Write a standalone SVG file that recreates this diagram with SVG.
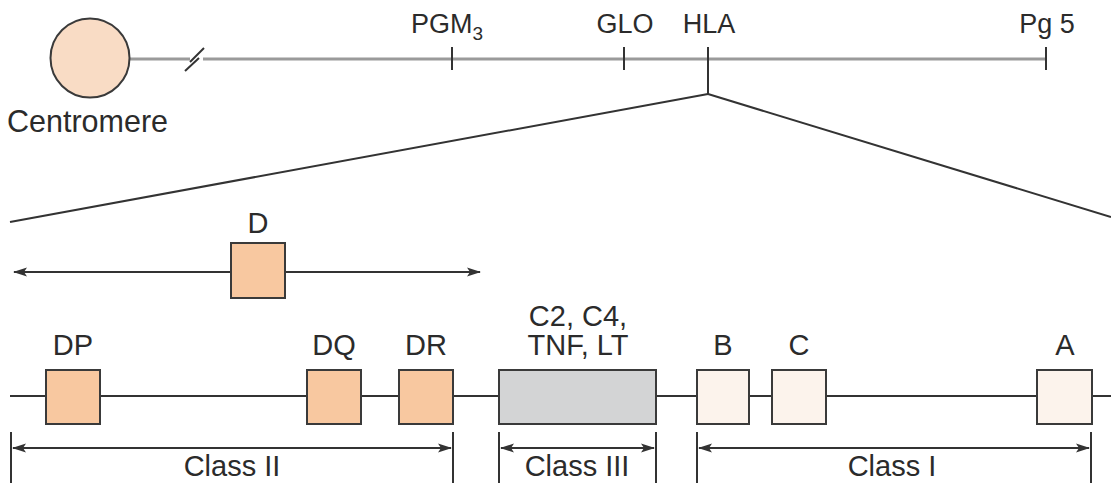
<svg xmlns="http://www.w3.org/2000/svg" width="1111" height="483" viewBox="0 0 1111 483">
<style>
text{font-family:"Liberation Sans",Arial,Helvetica,sans-serif;fill:#2b2b2b}
.lbl{font-size:29px;text-anchor:middle}
.top{font-size:27px}
.box{stroke:#3a3a3a;stroke-width:2}
.c2{fill:#f8c8a0}
.c1{fill:#fcf3ec}
.c3{fill:#d3d4d5}
.ln{stroke:#333;stroke-width:2;fill:none}
.chr{stroke:#9a9a9a;stroke-width:3;fill:none}
</style>
<defs>
<marker id="ah" viewBox="0 0 14 10" refX="13" refY="5" markerWidth="14" markerHeight="10" markerUnits="userSpaceOnUse" orient="auto-start-reverse">
<path d="M0,0.5 L14,5 L0,9.5 L3,5 Z" fill="#333"/>
</marker>
</defs>
<rect width="1111" height="483" fill="#ffffff"/>
<g id="chromosome">
<line class="chr" x1="130" y1="59" x2="190" y2="59"/>
<line class="chr" x1="203" y1="59" x2="1046" y2="59"/>
<line class="ln" x1="185" y1="71" x2="199" y2="58" stroke-width="1.8" stroke="#555"/>
<line class="ln" x1="190" y1="62" x2="204" y2="48" stroke-width="1.8" stroke="#555"/>
<line class="ln" x1="452" y1="47" x2="452" y2="70"/>
<line class="ln" x1="624" y1="47" x2="624" y2="70"/>
<line class="ln" x1="708" y1="47" x2="708" y2="94"/>
<line class="ln" x1="1046" y1="47" x2="1046" y2="70"/>
</g>
<g id="centromere">
<circle cx="90" cy="58" r="39.5" fill="#f9dcc5" stroke="#3a3a3a" stroke-width="2"/>
<text x="7" y="132" font-size="30.5">Centromere</text>
</g>
<g id="pgm3"><text class="top" x="411" y="33">PGM<tspan font-size="19" dy="7">3</tspan></text></g>
<g id="glo"><text class="top" x="625" y="33" text-anchor="middle">GLO</text></g>
<g id="hla"><text class="top" x="709" y="33" text-anchor="middle">HLA</text></g>
<g id="pg5"><text class="top" x="1047" y="33" text-anchor="middle">Pg 5</text></g>
<g id="connectors">
<line class="ln" x1="708" y1="94" x2="10" y2="222"/>
<line class="ln" x1="708" y1="94" x2="1111" y2="217"/>
<line class="ln" x1="14" y1="272" x2="480" y2="272" marker-start="url(#ah)" marker-end="url(#ah)"/>
<line class="ln" x1="10" y1="396" x2="1111" y2="396"/>
<line class="ln" x1="11" y1="432" x2="11" y2="483"/>
<line class="ln" x1="453" y1="432" x2="453" y2="483"/>
<line class="ln" x1="499" y1="432" x2="499" y2="483"/>
<line class="ln" x1="656" y1="432" x2="656" y2="483"/>
<line class="ln" x1="697" y1="432" x2="697" y2="483"/>
<line class="ln" x1="1091" y1="432" x2="1091" y2="483"/>
<line class="ln" x1="13" y1="448" x2="451" y2="448" marker-start="url(#ah)" marker-end="url(#ah)"/>
<line class="ln" x1="501" y1="448" x2="654" y2="448" marker-start="url(#ah)" marker-end="url(#ah)"/>
<line class="ln" x1="699" y1="448" x2="1089" y2="448" marker-start="url(#ah)" marker-end="url(#ah)"/>
</g>
<g id="d"><rect class="box c2" x="231" y="243" width="54" height="55"/><text class="lbl" x="258" y="233">D</text></g>
<g id="dp"><rect class="box c2" x="46" y="370" width="54" height="54"/><text class="lbl" x="73" y="355">DP</text></g>
<g id="dq"><rect class="box c2" x="307" y="370" width="54" height="54"/><text class="lbl" x="334" y="355">DQ</text></g>
<g id="dr"><rect class="box c2" x="399" y="370" width="54" height="54"/><text class="lbl" x="426" y="355">DR</text></g>
<g id="class3genes"><rect class="box c3" x="499" y="370" width="157" height="54"/><text class="lbl" x="578" y="326">C2, C4,</text><text class="lbl" x="578" y="355">TNF, LT</text></g>
<g id="b"><rect class="box c1" x="697" y="370" width="52" height="54"/><text class="lbl" x="723" y="355">B</text></g>
<g id="c"><rect class="box c1" x="772" y="370" width="54" height="54"/><text class="lbl" x="799" y="355">C</text></g>
<g id="a"><rect class="box c1" x="1037" y="370" width="55" height="54"/><text class="lbl" x="1065" y="355">A</text></g>
<g id="class2"><text class="lbl" x="232" y="476">Class II</text></g>
<g id="class3"><text class="lbl" x="577" y="476">Class III</text></g>
<g id="class1"><text class="lbl" x="892" y="476">Class I</text></g>
</svg>
